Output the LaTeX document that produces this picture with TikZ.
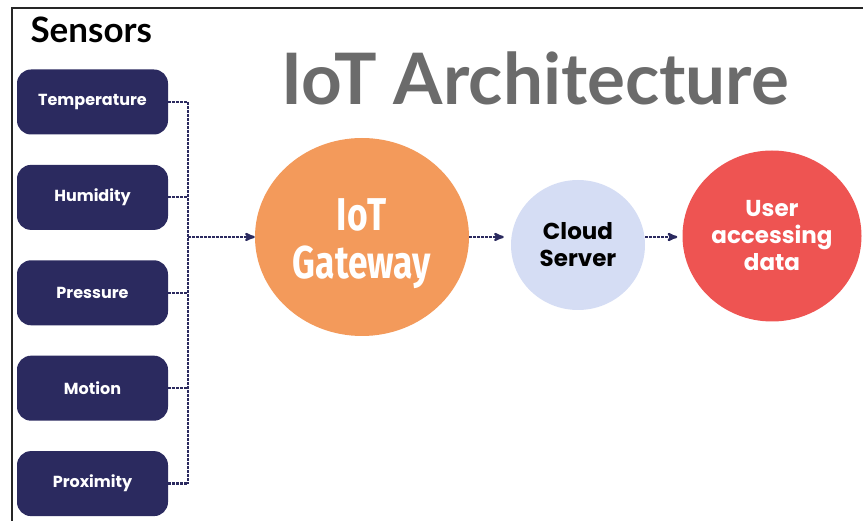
\documentclass[tikz,border=0pt]{standalone}
\usepackage{fontspec}
\usepackage{graphicx}
\setmainfont{Poppins}
\newfontfamily\headfont{Lato}
\newfontfamily\gatefont{Fira Sans}
\usetikzlibrary{arrows,positioning,shapes.geometric}
\definecolor{IoTnavy}{HTML}{2B2A5F}
\definecolor{IoTorange}{HTML}{F39A5B}
\definecolor{IoTlilac}{HTML}{D5DDF4}
\definecolor{IoTred}{HTML}{EE5452}
\definecolor{IoTgrey}{HTML}{6B6B6B}
\tikzset{
	>=stealth',
	sensor/.style={
		rectangle,
		rounded corners=14pt,
		fill=IoTnavy,
		text=white,
		minimum width=151pt,
		minimum height=65pt,
		font=\bfseries\fontsize{16}{18}\selectfont},
	hub/.style={
		ellipse,
		inner sep=0pt,
		align=center,
		font=\bfseries\fontsize{23}{27}\selectfont},
	link/.style={draw=IoTnavy, line width=2.2pt, dash pattern=on 3pt off 1pt},
	frame/.style={line width=1.5pt, black!85},
}
\newcommand*\gatetext[1]{\raisebox{-8pt}[\height][\depth]{\scalebox{0.77}[1]{\gatefont\bfseries\fontsize{46}{48}\selectfont
		\begin{tabular}{@{}c@{}}#1\end{tabular}}}}

\begin{document}
\begin{tikzpicture}
[x=1pt, y=-1pt,
node distance=30pt]
\useasboundingbox (0,0) rectangle (863,521);
\draw[frame] (12,521) -- (12,8) -- (863,8);

% headings
\node[anchor=base west, font=\headfont\bfseries\fontsize{35}{38}\selectfont] (senslabel) at (27,43) {Sensors};
\node[anchor=base, text=IoTgrey, font=\headfont\bfseries\fontsize{71}{75}\selectfont] (title) at (535.5,105) {IoT Architecture};

% sensor column
\node[sensor] (temp) at (92.5,102) {Temperature};
\node[sensor, below=of temp] (hum) {Humidity};
\node[sensor, below=of hum] (press) {Pressure};
\node[sensor, below=of press] (motion) {Motion};
\node[sensor, below=of motion] (prox) {Proximity};

% gateway, cloud and user
\node[hub, fill=IoTorange, text=white, minimum width=214pt, minimum height=198pt] (gw) at (362,237) {\gatetext{IoT\\Gateway}};
\node[hub, fill=IoTlilac, text=black, minimum width=134pt, minimum height=130pt] (cloud) at (578,245) {Cloud\\Server};
\node[hub, fill=IoTred, text=white, minimum width=179pt, minimum height=171pt] (user) at (772,236) {User\\accessing\\data};

% bus from the sensors into the gateway
\coordinate (bus) at (188,237);
\foreach \s in {temp,hum,press,motion,prox}
	\draw[link] (\s.east) -- (\s.east -| bus);
\draw[link] (temp.east -| bus) -- (prox.east -| bus);
\draw[link,->] (bus) -- (gw.west);

\draw[link,->,shorten >=7pt] (gw.east) -- (gw.east -| cloud.west);
\draw[link,->,shorten >=5pt] (cloud.east |- gw.east) -- (gw.east -| user.west);
\end{tikzpicture}
\end{document}
